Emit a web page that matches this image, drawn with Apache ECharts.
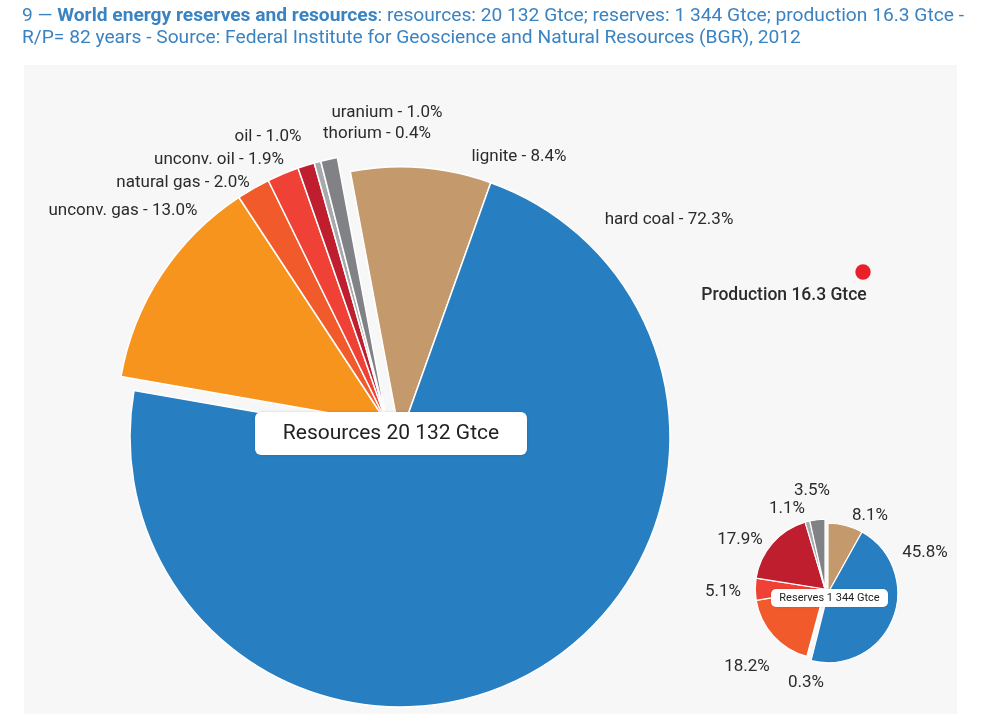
<!DOCTYPE html>
<html><head><meta charset="utf-8">
<script src="https://cdn.jsdelivr.net/npm/echarts@6/dist/echarts.min.js"></script>
<style>html,body{margin:0;padding:0;background:#fff}#c{width:985px;height:721px}</style>
</head><body><div id="c"></div><script>
// ---- data ----
const categories = ['lignite', 'hard coal', 'unconv. gas', 'natural gas', 'unconv. oil', 'oil', 'thorium', 'uranium'];
const resourceShares = [8.4, 72.3, 13.0, 2.0, 1.9, 1.0, 0.4, 1.0];
const reserveShares = [8.1, 45.8, 0.3, 18.2, 5.1, 17.9, 1.1, 3.5];
const resourcesTotal = 20132;   // Gtce
const reservesTotal = 1344;     // Gtce
const productionTotal = 16.3;   // Gtce
const rpYears = 82;
const sourceText = 'Federal Institute for Geoscience and Natural Resources (BGR), 2012';

// ---- styles / layout ----
const colors = ['#c4996b', '#277fc2', '#f7941e', '#f15a2b', '#ef4136', '#be1e2d', '#a7a9ac', '#808285'];
const groupA = [0, 1]; // lignite + hard coal drawn from one centre, the rest from an offset centre
const bigLabelPos = [[519,157],[669,220],[123,211],[183,183],[219,160],[268,137],[377,134],[387,113]];
const smallLabelPos = [[870,516],[925,553],[806,683],[747,667],[723,592],[740,540],[787,509],[812,491]];
const FONT = 'Roboto, "Noto Sans", sans-serif';
const TFONT = '"Liberation Sans Narrow", Roboto, sans-serif';
const R = 270;
const rRes = R * Math.sqrt(reservesTotal / resourcesTotal);
const rProd = R * Math.sqrt(productionTotal / resourcesTotal);

function fmt(n) { return String(n).replace(/\B(?=(\d{3})+(?!\d))/g, ' '); }

// title strings
const t1a = '9 — ', t1b = 'World energy reserves and resources',
      t1c = ': resources: ' + fmt(resourcesTotal) + ' Gtce; reserves: ' + fmt(reservesTotal) + ' Gtce; production ' + productionTotal + ' Gtce -';
const t2 = 'R/P= ' + rpYears + ' years - Source: ' + sourceText;
// fit title line to the reference width
const cv = document.createElement('canvas').getContext('2d');
cv.font = '20px ' + TFONT; let w = cv.measureText(t1a + t1c).width;
cv.font = 'bold 20px ' + TFONT; w += cv.measureText(t1b).width;
const tSize = Math.min(20, 20 * 943 / w);

const chart = echarts.init(document.getElementById('c'), null, {renderer: 'canvas'});

function pieData(shares, inGroupA, withLabels, bw) {
  return categories.map((n, i) => {
    const vis = groupA.includes(i) === inGroupA;
    return {
      name: n, value: shares[i],
      itemStyle: vis ? {color: colors[i], borderColor: '#fff', borderWidth: bw}
                     : {color: 'rgba(0,0,0,0)', borderWidth: 0},
      label: {show: withLabels}
    };
  });
}

const labelStyle = {color: '#2b2b2b', fontSize: 17, fontFamily: FONT, overflow: 'none'};

const option = {
  animation: false,
  graphic: [
    {type: 'rect', z: -10, shape: {x: 24, y: 65, width: 933, height: 649}, style: {fill: '#f7f7f7'}},
    {type: 'text', left: 22, top: 19 - tSize * 0.62, style: {
      text: t1a + '{b|' + t1b + '}' + t1c,
      font: tSize + 'px ' + TFONT, fill: '#3a83c3',
      rich: {b: {fontWeight: 'bold', fontSize: tSize, fontFamily: TFONT, fill: '#3a83c3'}}
    }},
    {type: 'text', left: 22, top: 41 - tSize * 0.62, style: {
      text: t2, font: tSize + 'px ' + TFONT, fill: '#3a83c3'
    }},
    {type: 'rect', z: 100, shape: {x: 255, y: 412, width: 272, height: 43, r: 6},
     style: {fill: '#fff', shadowBlur: 3, shadowColor: 'rgba(0,0,0,0.15)'}},
    {type: 'text', z: 101, x: 391, y: 434, style: {text: 'Resources ' + fmt(resourcesTotal) + ' Gtce',
      font: '21px ' + FONT, fill: '#222', align: 'center', verticalAlign: 'middle'}},
    {type: 'rect', z: 100, shape: {x: 771, y: 589, width: 117, height: 18, r: 5},
     style: {fill: '#fff', shadowBlur: 2, shadowColor: 'rgba(0,0,0,0.15)'}},
    {type: 'text', z: 101, x: 829.5, y: 598.5, style: {text: 'Reserves ' + fmt(reservesTotal) + ' Gtce',
      font: '11px ' + FONT, fill: '#222', align: 'center', verticalAlign: 'middle'}}
  ],
  series: [
    {
      type: 'pie', name: 'resources A', center: [400, 437], radius: [0, R],
      startAngle: 100.6, clockwise: true, avoidLabelOverlap: false, silent: true,
      label: Object.assign({show: true, position: 'outside',
        formatter: p => p.name + ' - ' + p.value.toFixed(1) + '%'}, labelStyle),
      labelLine: {show: false},
      labelLayout: p => ({x: bigLabelPos[p.dataIndex][0], y: bigLabelPos[p.dataIndex][1], align: 'center', verticalAlign: 'middle'}),
      data: pieData(resourceShares, true, true, 1.5)
    },
    {
      type: 'pie', name: 'resources B', center: [387, 423], radius: [0, R],
      startAngle: 100.6, clockwise: true, silent: true,
      label: {show: false}, labelLine: {show: false},
      data: pieData(resourceShares, false, false, 1.5)
    },
    {
      type: 'pie', name: 'reserves A', center: [828, 593], radius: [0, rRes],
      startAngle: 90, clockwise: true, avoidLabelOverlap: false, silent: true,
      label: Object.assign({show: true, position: 'outside',
        formatter: p => p.value.toFixed(1) + '%'}, labelStyle),
      labelLine: {show: false},
      labelLayout: p => ({x: smallLabelPos[p.dataIndex][0], y: smallLabelPos[p.dataIndex][1], align: 'center', verticalAlign: 'middle'}),
      data: pieData(reserveShares, true, true, 1.2)
    },
    {
      type: 'pie', name: 'reserves B', center: [825, 589], radius: [0, rRes],
      startAngle: 90, clockwise: true, silent: true,
      label: {show: false}, labelLine: {show: false},
      data: pieData(reserveShares, false, false, 1.2)
    },
    {
      type: 'pie', name: 'production', center: [863, 272], radius: [0, rProd], silent: true,
      label: {show: true, position: 'outside', color: '#2b2b2b', fontSize: 17.5, fontWeight: 500, fontFamily: FONT,
        overflow: 'none', width: 300,
        formatter: p => 'Production ' + p.value + ' Gtce'},
      labelLine: {show: false},
      labelLayout: () => ({x: 784, y: 296, align: 'center', verticalAlign: 'middle'}),
      data: [{name: 'production', value: productionTotal, itemStyle: {color: '#e8202a'}}]
    }
  ]
};
chart.setOption(option);
</script></body></html>
